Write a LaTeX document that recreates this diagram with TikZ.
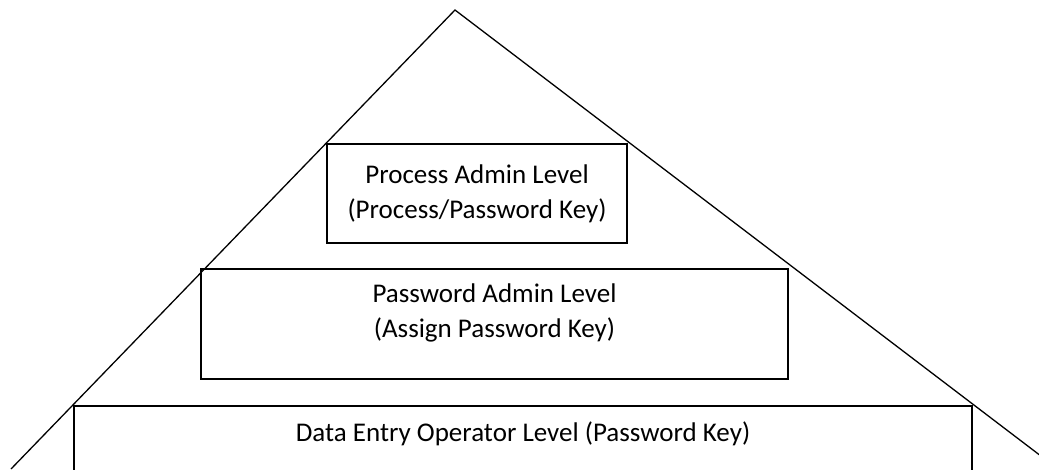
\documentclass[tikz,border=0pt]{standalone}
\usepackage{fontspec}
\setmainfont{Carlito}
\usepackage{tikz}
\tikzset{
  lvl/.style={draw=black, line width=1.8pt, rectangle, align=center, inner sep=0pt},
  lvltext/.style={align=center, inner sep=0pt},
}

\begin{document}
\begin{tikzpicture}[x=1pt, y=-1pt, font=\fontsize{27}{35}\selectfont]
    \useasboundingbox (0,0) rectangle (1039,469);
    \coordinate (apex) at (455,10);
    \coordinate (lb) at (11,469);
    \coordinate (rb) at (1058,469);

    \node[lvl, minimum width=300, minimum height=99] (proc) at (477,193.5) {Process Admin Level\\(Process/Password Key)};
    \node[lvl, minimum width=587, minimum height=110] (pwd) at (494.5,324) {};
    \node[lvltext] (pwdtxt) at (494.5,313) {Password Admin Level\\(Assign Password Key)};
    \node[lvl, minimum width=898, minimum height=110] (dataop) at (523,461) {};
    \node[lvltext] (dataoptxt) at (523,434) {Data Entry Operator Level (Password Key)};

    \draw[line width=1.3pt, line join=miter] (lb) -- (apex) -- (rb);
\end{tikzpicture}
\end{document}
